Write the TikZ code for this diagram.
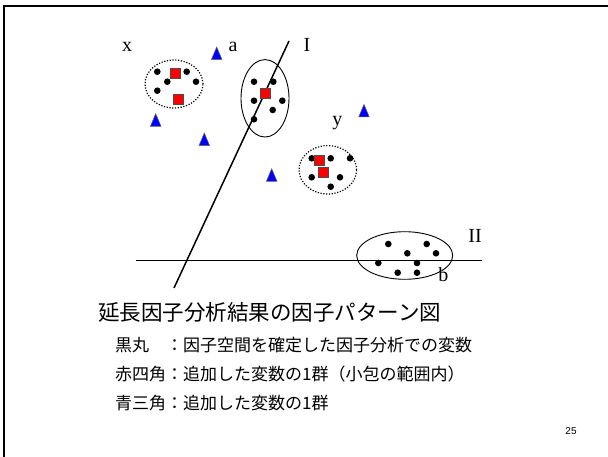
\documentclass[tikz,border=0pt]{standalone}
\usepackage{fontspec}
\setmainfont{Liberation Serif}
\newfontfamily\jpfont{Noto Sans CJK JP}
\newfontfamily\numfont{Liberation Sans}
\usetikzlibrary{calc}
\tikzset{
	dot/.style={fill=black},
	redsq/.style={fill=red, draw=black!70, line width=0.8pt},
	bluetri/.style={fill=blue, draw=black!60, line width=0.5pt},
	groupring/.style={line width=1.2pt, dash pattern=on 1.2pt off 1.6pt},
	clusterring/.style={line width=0.9pt},
	axisline/.style={line width=1.5pt},
	letter/.style={inner sep=0pt, font=\fontsize{20}{24}\selectfont},
	jptext/.style={inner sep=0pt, anchor=west, font=\jpfont\fontsize{17}{20}\selectfont},
}
\def\redsq(#1,#2){\draw[redsq] (#1-5, #2-5) rectangle (#1+5, #2+5);}
\def\bluetri(#1,#2){\draw[bluetri] (#1-5.3, #2+6.3) -- (#1, #2-6.3) -- (#1+5.3, #2+6.3) -- cycle;}

\begin{document}
\begin{tikzpicture}[x=1pt, y=-1pt]
			%%%%% START %%%%%
			\useasboundingbox (0, 0) rectangle (608, 457);
			
			\draw[line width=2pt] (4.2, 457) -- (4.2, 5.7) -- (608, 5.7);
			
			% axes
			\coordinate (Itop) at (289, 41);
			\coordinate (Ibot) at (174, 288);
			\coordinate (IIleft) at (135.5, 260.7);
			\coordinate (IIright) at (482, 260.7);
			\draw[axisline] (Ibot) -- (Itop);
			\draw[axisline] (IIleft) -- (IIright);
			
			% group x
			\draw[groupring] (174, 84) ellipse (29pt and 24pt);
			\fill[dot] (157.3, 71.7) circle (3.3pt);
			\fill[dot] (186.7, 71.7) circle (3.3pt);
			\fill[dot] (167.3, 81.7) circle (3.3pt);
			\fill[dot] (196, 81.7) circle (3.3pt);
			\fill[dot] (157.3, 90.7) circle (3.3pt);
			\redsq(175.7, 73.7)
			\redsq(178, 99)
			
			% cluster on I
			\draw[clusterring] (265, 98.3) ellipse (24pt and 38.7pt);
			\fill[dot] (254, 81.7) circle (3.3pt);
			\fill[dot] (273.3, 81.7) circle (3.3pt);
			\fill[dot] (254, 100.7) circle (3.3pt);
			\fill[dot] (282.3, 100.7) circle (3.3pt);
			\fill[dot] (272.7, 110) circle (3.3pt);
			\fill[dot] (254, 119.3) circle (3.3pt);
			\redsq(265.7, 93)
			
			% group y
			\draw[groupring] (327.8, 169.8) ellipse (28.8pt and 24.2pt);
			\fill[dot] (311.7, 158.3) circle (3.3pt);
			\fill[dot] (330.7, 158.3) circle (3.3pt);
			\fill[dot] (350, 158.3) circle (3.3pt);
			\fill[dot] (311.7, 177.3) circle (3.3pt);
			\fill[dot] (340, 177.3) circle (3.3pt);
			\fill[dot] (330.7, 186.7) circle (3.3pt);
			\redsq(319.7, 160)
			\redsq(323, 172)
			
			% cluster on II
			\draw[clusterring] (404.7, 255.5) ellipse (48pt and 23.8pt);
			\fill[dot] (388.3, 244) circle (3.3pt);
			\fill[dot] (426.7, 244) circle (3.3pt);
			\fill[dot] (407.3, 253.3) circle (3.3pt);
			\fill[dot] (436, 253.3) circle (3.3pt);
			\fill[dot] (378.3, 263) circle (3.3pt);
			\fill[dot] (417, 263) circle (3.3pt);
			\fill[dot] (397.7, 272.7) circle (3.3pt);
			\fill[dot] (417, 272.7) circle (3.3pt);
			
			% blue triangles
			\bluetri(216.7, 53.3)
			\bluetri(155.7, 120)
			\bluetri(204.3, 139.3)
			\bluetri(364, 110.7)
			\bluetri(271.7, 175)
			
			% letters
			\node[letter] (labx) at (127, 47) {x};
			\node[letter] (laba) at (233, 47) {a};
			\node[letter] (labI) at (307, 45) {I};
			\node[letter] (laby) at (337.3, 123.3) {y};
			\node[letter] (labII) at (475, 236) {II};
			\node[letter] (labb) at (443.3, 275) {b};
			
			% caption
			\node[jptext, font=\jpfont\fontsize{21.5}{24}\selectfont] (title) at (98, 312) {延長因子分析結果の因子パターン図};
			\node[jptext] (kuro) at (115, 345) {黒丸　：因子空間を確定した因子分析での変数};
			\node[jptext] (aka) at (115, 374) {赤四角：追加した変数の1群（小包の範囲内）};
			\node[jptext] (ao) at (115, 403) {青三角：追加した変数の1群};
			
			\node[inner sep=0pt, font=\numfont\fontsize{10}{12}\selectfont] (pageno) at (571, 431) {25};
			%%%%% END %%%%%
\end{tikzpicture}
\end{document}
